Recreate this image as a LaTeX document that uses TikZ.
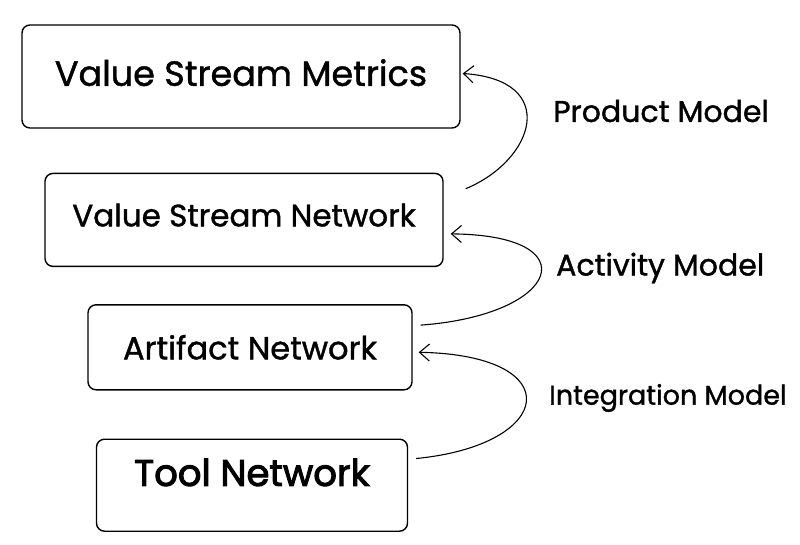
\documentclass[tikz,border=0pt]{standalone}
\usepackage{fontspec}
\setmainfont{Poppins}[FakeBold=1.2]
\usetikzlibrary{positioning,arrows.meta}

\begin{document}
\begin{tikzpicture}[
  x=1pt,y=-1pt,
  layer/.style={draw,line width=1.4pt,rounded corners=8pt,inner sep=0pt,
                align=center},
  model/.style={anchor=west,inner sep=0pt,font=\fontsize{30}{33}\selectfont},
  arr/.style={-{Straight Barb[length=3.5mm,width=6mm]},line width=1.1pt}
]
\useasboundingbox (0,0) rectangle (800,544);

\node[layer,minimum width=438pt,minimum height=103pt,text depth=8pt,
      font=\fontsize{35}{38}\selectfont] (vsm) at (241,76.5)
  {Value Stream Metrics};

\node[layer,minimum width=398pt,minimum height=93pt,below=44pt of vsm,
      xshift=3pt,text depth=10pt,font=\fontsize{31}{34}\selectfont] (vsn)
  {Value Stream Network};

\node[layer,minimum width=324pt,minimum height=85pt,below=37pt of vsn,
      xshift=6pt,font=\fontsize{32}{35}\selectfont] (art)
  {Artifact Network};

\node[layer,minimum width=311pt,minimum height=92pt,below=48pt of art,
      xshift=2pt,text depth=26pt,
      font=\fontsize{37}{40}\selectfont\addfontfeature{FakeBold=2.6}] (tool)
  {Tool Network};

\node[model] (prod) at (553,111) {Product Model};
\node[model] (act) at (556,268) {Activity Model};
\node[model,font=\fontsize{27}{30}\selectfont] (integ) at (549,398)
  {Integration Model};

\draw[arr] ([shift={(22,16)}]vsn.north east)
  .. controls (535,160) and (560,80) .. ([shift={(2,-3)}]vsm.east);
\draw[arr] ([shift={(8,21)}]art.north east)
  .. controls (560,315) and (590,235) .. ([shift={(7,14)}]vsn.east);
\draw[arr] ([shift={(8,20)}]tool.north east)
  .. controls (555,445) and (570,355) .. ([shift={(6,5)}]art.east);

\end{tikzpicture}
\end{document}
